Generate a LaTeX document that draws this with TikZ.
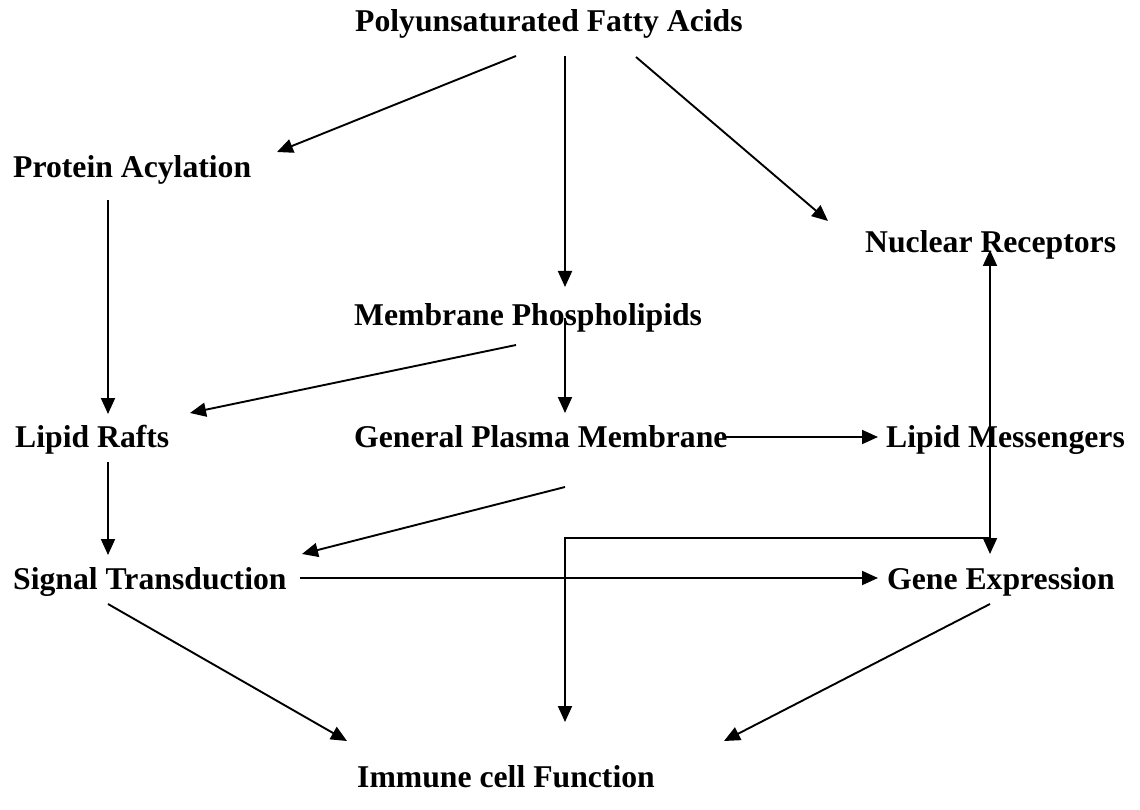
\documentclass[tikz,border=0pt]{standalone}
\usepackage{fontspec}
\setmainfont{Liberation Serif}
\usetikzlibrary{arrows.meta}
\begin{document}
\begin{tikzpicture}[x=1pt,y=-1pt,
  lbl/.style={anchor=base west,inner sep=0pt,font=\fontsize{31.7}{38}\selectfont\bfseries},
  arr/.style={line width=1.9pt,-{Triangle[length=16pt,width=14pt]}}]
\useasboundingbox[fill=white] (0,0) rectangle (1140,810);
\node[lbl] (pufa) at (355,32) {Polyunsaturated Fatty Acids};
\node[lbl] (pa) at (13,178) {Protein Acylation};
\node[lbl] (nr) at (865,253) {Nuclear Receptors};
\node[lbl] (mp) at (354,325) {Membrane Phospholipids};
\node[lbl] (lr) at (15,447) {Lipid Rafts};
\node[lbl] (gpm) at (354,447) {General Plasma Membrane};
\node[lbl] (lm) at (886,447) {Lipid Messengers};
\node[lbl] (st) at (13,589) {Signal Transduction};
\node[lbl] (ge) at (887,589) {Gene Expression};
\node[lbl] (icf) at (357,787) {Immune cell Function};
\coordinate (lmjoint) at ([xshift=104pt,yshift=-91pt]lm.base west);
% PUFA
\draw[arr] ([xshift=161pt,yshift=-24pt]pufa.base west) -- ([xshift=264pt,yshift=26pt]pa.base west);
\draw[arr] ([xshift=210pt,yshift=-24pt]pufa.base west) -- ([xshift=211pt,yshift=38pt]mp.base west);
\draw[arr] ([xshift=281pt,yshift=-25pt]pufa.base west) -- ([xshift=-37pt,yshift=32pt]nr.base west);
% Protein acylation -> lipid rafts
\draw[arr] ([xshift=95pt,yshift=-22pt]pa.base west) -- ([xshift=93pt,yshift=33pt]lr.base west);
% Membrane phospholipids
\draw[arr] ([xshift=162pt,yshift=-20pt]mp.base west) -- ([xshift=175pt,yshift=34pt]lr.base west);
\draw[arr] ([xshift=211pt,yshift=7pt]mp.base west) -- ([xshift=211pt,yshift=34pt]gpm.base west);
% General plasma membrane
\draw[arr] ([xshift=372pt,yshift=10pt]gpm.base west) -- ([xshift=-8pt,yshift=10pt]lm.base west);
\draw[arr] ([xshift=211pt,yshift=-40pt]gpm.base west) -- ([xshift=289pt,yshift=35pt]st.base west);
% Lipid messengers
\draw[arr] ([xshift=104pt,yshift=-43pt]lm.base west) -- ([xshift=125pt,yshift=3pt]nr.base west);
\draw[arr] ([xshift=104pt,yshift=-43pt]lm.base west) -- ([xshift=103pt,yshift=35pt]ge.base west);
\draw[arr] (lmjoint) -| ([xshift=208pt,yshift=65pt]icf.base west);
% Lipid rafts -> signal transduction
\draw[arr] ([xshift=93pt,yshift=-15pt]lr.base west) -- ([xshift=95pt,yshift=34pt]st.base west);
% Signal transduction
\draw[arr] ([xshift=287pt,yshift=11pt]st.base west) -- ([xshift=-9pt,yshift=11pt]ge.base west);
\draw[arr] ([xshift=95pt,yshift=-15pt]st.base west) -- ([xshift=-10pt,yshift=46pt]icf.base west);
% Gene expression
\draw[arr] ([xshift=103pt,yshift=-15pt]ge.base west) -- ([xshift=367pt,yshift=46pt]icf.base west);
\end{tikzpicture}
\end{document}
